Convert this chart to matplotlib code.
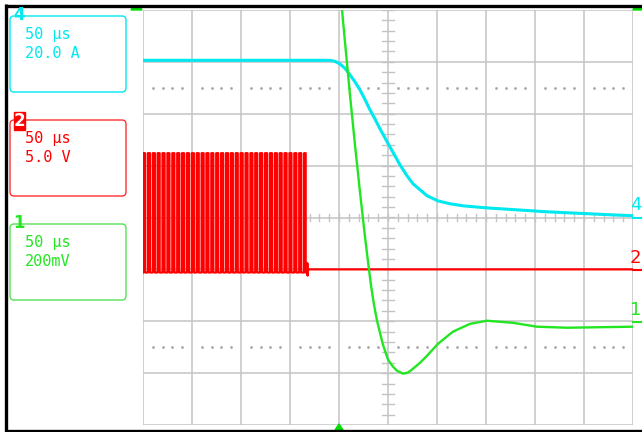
import numpy as np
import matplotlib
matplotlib.use("Agg")
import matplotlib.pyplot as plt
from matplotlib.patches import FancyBboxPatch, Rectangle, Polygon

# ---------------- data (time in microseconds) ----------------
time_per_div_us = 50
ch4_A_per_div = 20.0
ch2_V_per_div = 5.0
ch1_mV_per_div = 200.0
ch4_offset_div = 0.0
ch2_offset_div = -1.0
ch1_offset_div = -2.0

# Channel 4 : current (A)
ch4_t = [-250, -59.2, -54.1, -49.0, -43.9, -38.8, -33.7, -28.6, -23.5, -18.4, -13.3, -8.2, -3.1,
         2.0, 7.1, 12.2, 19.4, 25.5, 32.7, 39.8, 51.0, 63.3, 76.5, 101, 162.2, 229.6, 250]
ch4_A = [60.6, 60.6, 60.2, 59.2, 57.5, 55.0, 52.3, 49.2, 45.5, 41.5, 38.0, 34.2, 30.7,
         27.2, 23.8, 20.3, 16.1, 13.0, 10.7, 8.4, 6.4, 5.3, 4.5, 3.7, 2.2, 1.0, 0.7]

# Channel 2 : PWM gate voltage (V)
ch2_rise_t = [-250.0, -245.0, -240.0, -235.1, -230.1, -225.1, -220.1, -215.1, -210.2, -205.2,
              -200.2, -195.2, -190.2, -185.3, -180.3, -175.3, -170.3, -165.3, -160.4, -155.4,
              -150.4, -145.4, -140.4, -135.5, -130.5, -125.5, -120.5, -115.5, -110.6, -105.6,
              -100.6, -95.6, -90.6, -85.6]
ch2_fall_t = [-247.9, -242.9, -237.9, -233.0, -228.0, -223.0, -218.0, -213.0, -208.1, -203.1,
              -198.1, -193.1, -188.1, -183.2, -178.2, -173.2, -168.2, -163.2, -158.3, -153.3,
              -148.3, -143.3, -138.3, -133.4, -128.4, -123.4, -118.4, -113.4, -108.5, -103.5,
              -98.5, -93.5, -88.5, -84.0]
ch2_high_V = 11.2
ch2_low_V = -0.3
ch2_tail_t = [-84.0, -82.5, -82.3, -82.1, -81.5, 250]
ch2_tail_V = [-0.3, -0.3, 0.6, -0.6, 0.0, 0.0]

# Channel 1 : sense voltage (mV)
ch1_t = [-47.4, -43.9, -38.8, -33.7, -28.6, -23.5, -20.4, -17.3, -14.3, -11.2, -8.2, -5.1, 0,
         5.1, 9.2, 15.3, 20.4, 25.5, 32.7, 39.8, 51, 66.3, 83.7, 101, 127.6, 152, 182.7, 250]
ch1_mV = [1220, 1077, 873, 680, 499, 326, 230, 137, 64, 2, -44, -91, -148,
          -175, -191, -202, -198, -183, -160, -133, -87, -40, -10, 2, -6, -21, -25, -21]

box_labels = [("4", "50 μs", "20.0 A"), ("2", "50 μs", "5.0 V"), ("1", "50 μs", "200mV")]

# ---------------- figure ----------------
W, H = 642, 432
fig = plt.figure(figsize=(W / 100, H / 100), dpi=100)
fig.patch.set_facecolor("white")

gx0, gx1, gy0, gy1 = 143, 633, 10, 425
ax = fig.add_axes([gx0 / W, 1 - gy1 / H, (gx1 - gx0) / W, (gy1 - gy0) / H])
ax.set_xlim(-5 * time_per_div_us, 5 * time_per_div_us)
ax.set_ylim(-4, 4)
ax.axis("off")

grid_c = "#c4c4c4"
for i in range(-5, 6):
    ax.axvline(i * time_per_div_us, color=grid_c, lw=1.1, zorder=1)
for j in range(-4, 5):
    ax.axhline(j, color=grid_c, lw=1.1, zorder=1)
# dotted rows at +-2.5 div
minor_x = [i * time_per_div_us + k * time_per_div_us / 5 for i in range(-5, 5) for k in range(1, 5)]
for yy in (2.5, -2.5):
    ax.plot(minor_x, [yy] * len(minor_x), ls="none", marker="s", ms=0.9, color="#a8a8a8", zorder=1)
# centre axis ticks
for xm in np.arange(-5, 5.01, 0.2) * time_per_div_us:
    ax.plot([xm, xm], [-0.075, 0.075], color=grid_c, lw=1.0, zorder=1)
for ym in np.arange(-4, 4.01, 0.2):
    ax.plot([-5.7, 5.7], [ym, ym], color=grid_c, lw=1.0, zorder=1)

cyan = "#00e8f0"
red = "#ff0000"
green = "#22e622"

# channel 4
ax.plot(ch4_t, np.array(ch4_A) / ch4_A_per_div + ch4_offset_div, color=cyan, lw=2.2, zorder=3)

# channel 2 pulses
t2, v2 = [], []
for r, f in zip(ch2_rise_t, ch2_fall_t):
    t2 += [r, r, f, f]
    v2 += [ch2_low_V, ch2_high_V, ch2_high_V, ch2_low_V]
t2 += ch2_tail_t
v2 += ch2_tail_V
ax.plot(t2, np.array(v2) / ch2_V_per_div + ch2_offset_div, color=red, lw=1.6, zorder=4)

# channel 1
ax.plot(ch1_t, np.array(ch1_mV) / ch1_mV_per_div + ch1_offset_div, color=green, lw=1.7, zorder=5)

# ---------------- overlay (pixel coordinates) ----------------
ov = fig.add_axes([0, 0, 1, 1], zorder=10)
ov.set_xlim(0, W)
ov.set_ylim(H, 0)
ov.axis("off")
ov.patch.set_alpha(0)

# black frame
ov.plot([6, 6], [4, 432], color="black", lw=2.4, solid_capstyle="butt")
ov.plot([5, 642], [5.5, 5.5], color="black", lw=2.4, solid_capstyle="butt")
ov.plot([5, 642], [430.5, 430.5], color="black", lw=2.4, solid_capstyle="butt")

box_cols = [(cyan, cyan), ("#ff3030", red), ("#55e055", green)]
box_tops = [16, 120, 224]
for (num, l1, l2), (bc, tc), yt in zip(box_labels, box_cols, box_tops):
    ov.add_patch(FancyBboxPatch((10, yt), 116, 76, boxstyle="round,pad=0,rounding_size=4",
                                fill=False, ec=bc, lw=1.0))
    ov.text(25, yt + 19, l1, color=tc, fontsize=11, family="DejaVu Sans Mono", va="center", ha="left")
    ov.text(25, yt + 37, l2, color=tc, fontsize=11, family="DejaVu Sans Mono", va="center", ha="left")
    if num == "2":
        ov.add_patch(Rectangle((14, yt - 8), 11, 18, color=red))
        ov.text(19.5, yt + 1, num, color="white", fontsize=12, fontweight="bold",
                va="center", ha="center")
    else:
        ov.text(19, yt - 1, num, color=tc, fontsize=12, fontweight="bold", va="center", ha="center")

# right side channel markers
for num, col, ygnd in (("4", cyan, 217.5), ("2", red, 270), ("1", green, 322)):
    ov.plot([633, 642], [ygnd, ygnd], color=col, lw=1.5)
    ov.text(641.5, ygnd - 12, num, color=col, fontsize=13, va="center", ha="right")

# trigger / reference markers
ov.add_patch(Polygon([[131, 10], [133, 6], [140, 6], [142, 10]], closed=True, color="#00e000"))
ov.add_patch(Polygon([[633, 10], [634, 7], [642, 7], [642, 10]], closed=True, color="#00e000"))
ov.add_patch(Polygon([[335, 430], [339, 424], [343, 430]], closed=True, color="#00e000"))

fig.savefig("out.png", dpi=100)
